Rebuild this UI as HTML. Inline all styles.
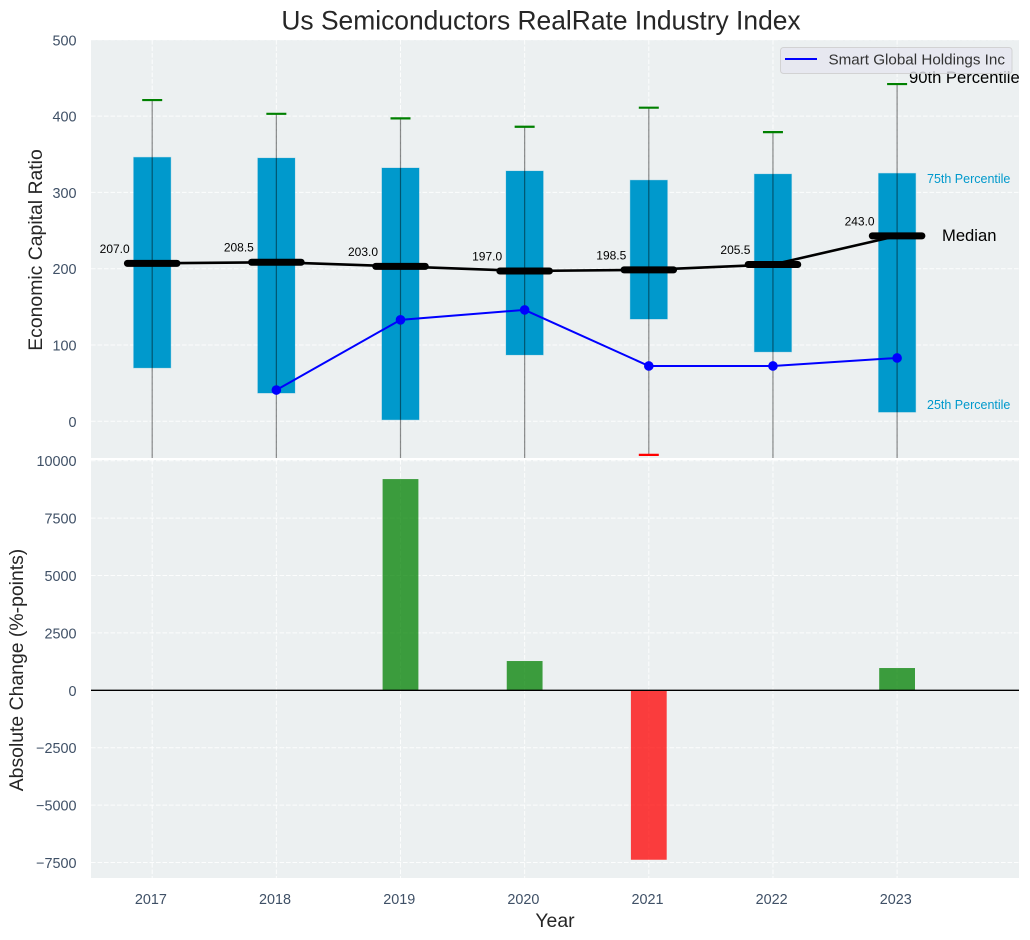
<!DOCTYPE html>
<html lang="en">
<head>
<meta charset="utf-8">
<title>Us Semiconductors RealRate Industry Index</title>
<style>
html,body{margin:0;padding:0;background:#fff;width:1030px;height:940px;overflow:hidden}
svg{display:block;font-family:"Liberation Sans",Arial,sans-serif}
</style>
</head>
<body>
<svg id="chart" width="1030" height="940" viewBox="0 0 1030 940">
  <defs>
    <clipPath id="clip-top"><rect x="91" y="40" width="928" height="418"></rect></clipPath>
    <clipPath id="clip-bottom"><rect x="91" y="460" width="928" height="418"></rect></clipPath>
  </defs>
  <rect x="91" y="40" width="928" height="418" fill="#ecf0f1"></rect>
  <rect x="91" y="460" width="928" height="418" fill="#ecf0f1"></rect>
  <g id="grid"></g>
  <g id="top-marks" clip-path="url(#clip-top)"></g>
  <g id="bottom-marks" clip-path="url(#clip-bottom)"></g>
  <g id="ticks"></g>
  <g id="labels"></g>
  <text x="541" y="29.5" text-anchor="middle" font-size="26.4" fill="#262626">Us Semiconductors RealRate Industry Index</text>
  <text transform="translate(42,250) rotate(-90)" text-anchor="middle" font-size="19.4" fill="#262626">Economic Capital Ratio</text>
  <text transform="translate(23,670) rotate(-90)" text-anchor="middle" font-size="19.4" fill="#262626">Absolute Change (%-points)</text>
  <text x="555" y="927" text-anchor="middle" font-size="19.4" fill="#262626">Year</text>
  <text x="909" y="83" font-size="16.6" fill="#000">90th Percentile</text>
  <text x="942" y="241" font-size="16.6" fill="#000">Median</text>
  <text x="927" y="183" font-size="12.5" fill="#0099cc">75th Percentile</text>
  <text x="927" y="409" font-size="12.5" fill="#0099cc">25th Percentile</text>
  <g>
    <rect x="780.5" y="47.5" width="231.5" height="26" rx="3" fill="#e6e6f0" fill-opacity="0.8" stroke="#cccccc" stroke-opacity="0.8"></rect>
    <line x1="785" y1="59" x2="817" y2="59" stroke="#0000ff" stroke-width="2"></line>
    <text x="828.5" y="64.5" font-size="15.2" fill="#333333">Smart Global Holdings Inc</text>
  </g>
</svg>
<script>
const years = [2017, 2018, 2019, 2020, 2021, 2022, 2023];
const p90 = [421, 403, 397, 386, 411, 379, 442];
const p75 = [346, 345, 332, 328, 316, 324, 325];
const medians = [207.0, 208.5, 203.0, 197.0, 198.5, 205.5, 243.0];
const p25 = [70, 37, 2, 87, 134, 91, 12];
const p10 = [-60, -60, -60, -60, -44, -60, -60];
const companyYears = [2018, 2019, 2020, 2021, 2022, 2023];
const companyValues = [41, 133, 146, 72.5, 72.5, 83];
const changeYears = [2019, 2020, 2021, 2023];
const changeValues = [9200, 1275, -7380, 970];
const topTicks = [0, 100, 200, 300, 400, 500];
const bottomTicks = [-7500, -5000, -2500, 0, 2500, 5000, 7500, 10000];

const NS = 'http://www.w3.org/2000/svg';
const xScale = v => 152.2 + (v - 2017) * 124.15;
const yTop = v => 421.3 - v * 0.763;
const yBottom = v => 690.3 - v * 0.02296;

function make(tag, attrs, parent) {
  const el = document.createElementNS(NS, tag);
  for (const k in attrs) el.setAttribute(k, attrs[k]);
  parent.appendChild(el);
  return el;
}

const gridG = document.getElementById('grid');
const topG = document.getElementById('top-marks');
const bottomG = document.getElementById('bottom-marks');
const ticksG = document.getElementById('ticks');
const labelsG = document.getElementById('labels');
const gridStyle = { stroke: '#ffffff', 'stroke-width': 1, 'stroke-opacity': 0.85, 'stroke-dasharray': '4.6 1.9', fill: 'none' };

years.forEach(function (yr) {
  const x = xScale(yr);
  const g1 = make('line', Object.assign({ x1: x, x2: x, y1: 40, y2: 458 }, gridStyle), gridG);
  
  
  const g2 = make('line', Object.assign({ x1: x, x2: x, y1: 460, y2: 878 }, gridStyle), gridG);
  
  
  const t = make('text', { x: x - 1.3, y: 904, 'text-anchor': 'middle', 'font-size': 14.4, fill: '#3f5066' }, ticksG);
  t.textContent = String(yr);
  
  
});

topTicks.forEach(function (v) {
  const y = yTop(v);
  const g = make('line', Object.assign({ x1: 91, x2: 1019, y1: y, y2: y }, gridStyle), gridG);
  
  
  const t = make('text', { x: 76.5, y: y + 5.5, 'text-anchor': 'end', 'font-size': 14.4, fill: '#3f5066' }, ticksG);
  t.textContent = String(v);
  
  
});

bottomTicks.forEach(function (v) {
  const y = yBottom(v);
  const g = make('line', Object.assign({ x1: 91, x2: 1019, y1: y, y2: y }, gridStyle), gridG);
  
  
  const t = make('text', { x: 76.5, y: y + 5.5, 'text-anchor': 'end', 'font-size': 14.4, fill: '#3f5066' }, ticksG);
  t.textContent = String(v).replace('-', '\u2212');
  
  
});

years.forEach(function (yr, i) {
  const x = xScale(yr);
  const bar = make('rect', {
    x: x - 18.6, width: 37.2, y: yTop(p75[i]), height: yTop(p25[i]) - yTop(p75[i]),
    fill: '#0099cc', stroke: '#0099cc', 'stroke-opacity': 0.25, 'stroke-width': 1
  }, topG);
  
  
});

years.forEach(function (yr, i) {
  const x = xScale(yr);
  const w = make('line', { x1: x, x2: x, y1: yTop(p90[i]), y2: yTop(p10[i]), stroke: '#000000', 'stroke-opacity': 0.45, 'stroke-width': 1.2 }, topG);
  
  
  const capHi = make('line', { x1: x - 10, x2: x + 10, y1: yTop(p90[i]), y2: yTop(p90[i]), stroke: '#008000', 'stroke-width': 2.2 }, topG);
  
  
  const capLo = make('line', { x1: x - 10, x2: x + 10, y1: yTop(p10[i]), y2: yTop(p10[i]), stroke: '#ff0000', 'stroke-width': 2.2 }, topG);
  
  
});

const medianPoints = years.map(function (yr, i) { return xScale(yr) + ',' + yTop(medians[i]); }).join(' ');
const medianLine = make('polyline', { points: medianPoints, fill: 'none', stroke: '#000000', 'stroke-width': 2.6 }, topG);



years.forEach(function (yr, i) {
  const x = xScale(yr);
  const y = yTop(medians[i]);
  const m = make('line', { x1: x - 24.8, x2: x + 24.8, y1: y, y2: y, stroke: '#000000', 'stroke-width': 7, 'stroke-linecap': 'round' }, topG);
  
  
  const t = make('text', { x: x - 22.5, y: y - 10.5, 'text-anchor': 'end', 'font-size': 12, fill: '#000000' }, labelsG);
  t.textContent = medians[i].toFixed(1);
  
  
});

const companyPoints = companyYears.map(function (yr, i) { return xScale(yr) + ',' + yTop(companyValues[i]); }).join(' ');
const companyLine = make('polyline', { points: companyPoints, fill: 'none', stroke: '#0000ff', 'stroke-width': 2 }, topG);



companyYears.forEach(function (yr, i) {
  const c = make('circle', { cx: xScale(yr), cy: yTop(companyValues[i]), r: 4.8, fill: '#0000ff' }, topG);
  
  
});

changeYears.forEach(function (yr, i) {
  const v = changeValues[i];
  const top = Math.min(yBottom(v), yBottom(0));
  const h = Math.abs(yBottom(v) - yBottom(0));
  const col = v >= 0 ? '#008000' : '#ff0000';
  const bar = make('rect', { x: xScale(yr) - 17.9, width: 35.8, y: top, height: h, fill: col, 'fill-opacity': 0.75 }, bottomG);
  
  
});

const zero = make('line', { x1: 91, x2: 1019, y1: yBottom(0), y2: yBottom(0), stroke: '#000000', 'stroke-width': 1.3 }, bottomG);


</script>
</body>
</html>
